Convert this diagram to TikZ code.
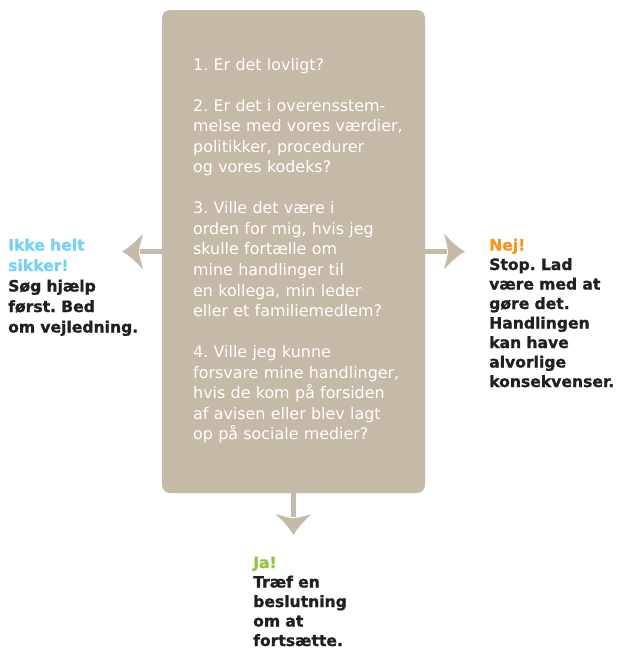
\documentclass[tikz,border=0pt]{standalone}
\usepackage{fontspec}
\setmainfont{DejaVu Sans}[BoldFeatures={FakeBold=1.2}]
\definecolor{tanbox}{HTML}{C5B9A8}
\definecolor{unsure}{HTML}{78D0F4}
\definecolor{nejcol}{HTML}{F7941D}
\definecolor{jacol}{HTML}{8DC63F}
\definecolor{ink}{HTML}{231F20}
\tikzset{
  qbox/.style={fill=tanbox, rounded corners=8pt, minimum width=263pt, minimum height=483pt, inner sep=0pt},
  qtext/.style={anchor=base west, inner sep=0pt, text width=260pt, align=left, text=white, font=\fontsize{15.9}{20.55}\selectfont},
  answer/.style={anchor=base west, inner sep=0pt, text width=160pt, align=left, text=ink, font=\bfseries\fontsize{15.6}{20.5}\selectfont},
  shaft/.style={draw=tanbox, line width=5pt},
  headpic/.pic={\fill[tanbox] (0,0) .. controls (-6,-3) and (-14,-10) .. (-21,-18) .. controls (-19,-10) and (-17,-4) .. (-17,0) .. controls (-17,4) and (-19,10) .. (-21,18) .. controls (-14,10) and (-6,3) .. (0,0) -- cycle;}
}
\begin{document}
\frenchspacing
\begin{tikzpicture}[x=1pt,y=-1pt]
\useasboundingbox (0,0) rectangle (620,651);
\node[qbox] (box) at (293.5,251.5) {};
\node[qtext] (q) at (193,70) {1. Er det lovligt?\\[20.55pt]
2. Er det i overensstem-\\
melse med vores værdier,\\
politikker, procedurer\\
og vores kodeks?\\[20.55pt]
3. Ville det være i\\
orden for mig, hvis jeg\\
skulle fortælle om\\
mine handlinger til\\
en kollega, min leder\\
eller et familiemedlem?\\[20.55pt]
4. Ville jeg kunne\\
forsvare mine handlinger,\\
hvis de kom på forsiden\\
af avisen eller blev lagt\\
op på sociale medier?};
% left
\coordinate (ltip) at (122,251.5);
\draw[shaft] (box.west) -- ([xshift=18pt]ltip);
\pic[rotate=180] at (ltip) {headpic};
\node[answer] (left) at (8,250.5) {\textcolor{unsure}{Ikke helt\\sikker!}\\Søg hjælp\\først. Bed\\om vejledning.};
% right
\coordinate (rtip) at (465,251.5);
\draw[shaft] (box.east) -- ([xshift=-18pt]rtip);
\pic at (rtip) {headpic};
\node[answer, font=\bfseries\fontsize{15.6}{19.5}\selectfont] (right) at (489,250.5) {\textcolor{nejcol}{Nej!}\\Stop. Lad\\være med at\\gøre det.\\Handlingen\\kan have\\alvorlige\\konsekvenser.};
% down
\coordinate (dtip) at ([yshift=-42pt]box.south);
\draw[shaft] (box.south) -- ([yshift=18pt]dtip);
\pic[rotate=-90] at (dtip) {headpic};
\node[answer, font=\bfseries\fontsize{15.6}{19.5}\selectfont] (down) at (253,568) {\textcolor{jacol}{Ja!}\\Træf en\\beslutning\\om at\\fortsætte.};
\end{tikzpicture}
\end{document}
